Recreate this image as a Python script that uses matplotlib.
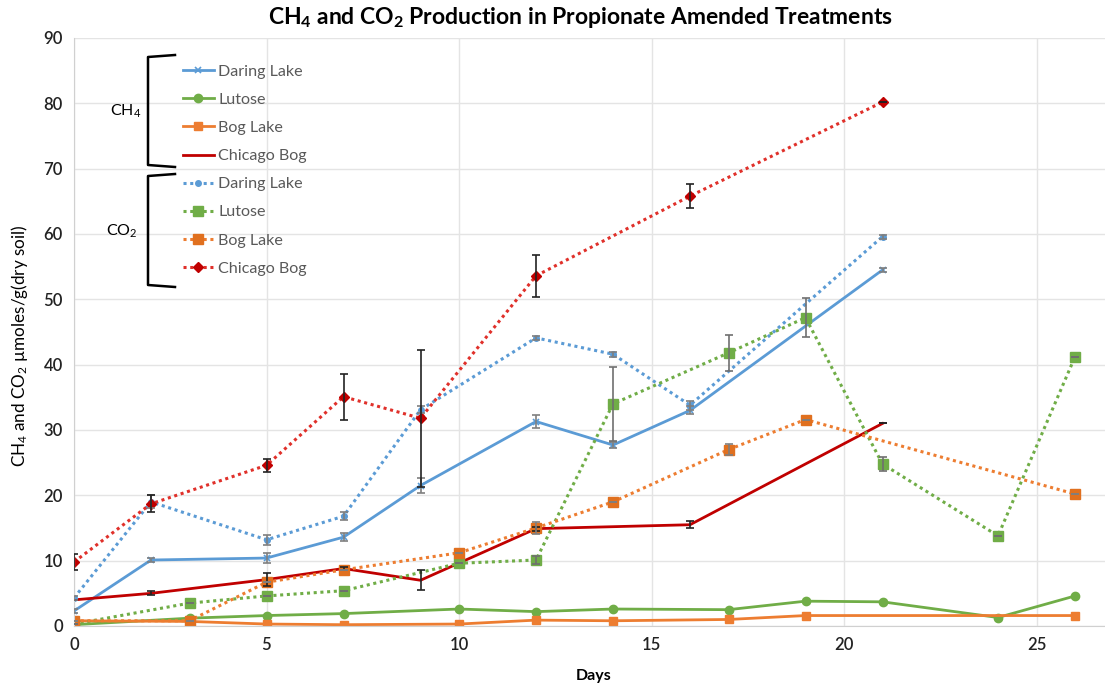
import numpy as np
import matplotlib
matplotlib.use("Agg")
import matplotlib.pyplot as plt
from matplotlib.lines import Line2D

plt.rcParams['font.family'] = ['Lato', 'DejaVu Sans']
plt.rcParams['mathtext.fontset'] = 'custom'
plt.rcParams['mathtext.rm'] = 'Lato'
plt.rcParams['mathtext.it'] = 'Lato:italic'
plt.rcParams['mathtext.bf'] = 'Lato:bold'

# CH4 series (days, umoles/g dry soil, std error)
ch4_daring_days = [0, 2, 5, 7, 9, 12, 14, 16, 21]
ch4_daring = [2.3, 10.1, 10.4, 13.6, 21.5, 31.3, 27.7, 33.0, 54.5]
ch4_daring_err = [0.3, 0.3, 0.8, 0.6, 1.2, 1.0, 0.5, 0.6, 0.3]

ch4_lutose_days = [0, 3, 5, 7, 10, 12, 14, 17, 19, 21, 24, 26]
ch4_lutose = [0.2, 1.2, 1.6, 1.9, 2.6, 2.2, 2.6, 2.5, 3.8, 3.7, 1.3, 4.6]

ch4_bog_days = [0, 3, 5, 7, 10, 12, 14, 17, 19, 26]
ch4_bog = [0.8, 0.7, 0.3, 0.2, 0.3, 0.9, 0.8, 1.0, 1.6, 1.6]

ch4_chicago_days = [0, 2, 5, 7, 9, 12, 16, 21]
ch4_chicago = [4.0, 5.0, 7.1, 8.8, 7.0, 14.9, 15.5, 31.0]
ch4_chicago_err = [0.0, 0.3, 1.0, 0.2, 1.5, 0.3, 0.5, 0.0]

# CO2 series
co2_daring_days = [0, 2, 5, 7, 9, 12, 14, 16, 21]
co2_daring = [4.3, 19.0, 13.2, 16.8, 33.1, 44.1, 41.6, 33.8, 59.6]
co2_daring_err = [0.3, 1.0, 0.8, 0.6, 0.5, 0.3, 0.4, 0.7, 0.3]

co2_lutose_days = [0, 3, 5, 7, 10, 12, 14, 17, 19, 21, 24, 26]
co2_lutose = [0.3, 3.5, 4.6, 5.4, 9.6, 10.1, 34.0, 41.8, 47.2, 24.8, 13.8, 41.2]
co2_lutose_err = [0, 0, 0, 0, 0, 0.6, 5.7, 2.8, 3.0, 1.0, 0, 0]

co2_bog_days = [0, 3, 5, 7, 10, 12, 14, 17, 19, 26]
co2_bog = [0.8, 0.8, 6.7, 8.6, 11.2, 15.0, 19.0, 27.0, 31.6, 20.2]
co2_bog_err = [0, 0, 0, 0, 0, 0.9, 0, 0.8, 0, 0]

co2_chicago_days = [0, 2, 5, 7, 9, 12, 16, 21]
co2_chicago = [9.8, 18.7, 24.6, 35.1, 31.8, 53.6, 65.8, 80.2]
co2_chicago_err = [1.2, 1.3, 1.0, 3.5, 10.5, 3.2, 1.8, 0]

blue = '#5B9BD5'
green = '#70AD47'
orange = '#ED7D31'
dark_orange = '#E0701F'
red = '#C00000'
dot_red = '#E0302A'
dots = (0, (1, 1.2))

fig = plt.figure(figsize=(11.05, 6.87), dpi=100)
ax = fig.add_axes([74 / 1105, 61 / 687, 1 - 74 / 1105, 588 / 687])

lines = []
lines += ax.plot(ch4_daring_days, ch4_daring, color=blue, lw=2, marker='x', ms=4.5, mew=1.2, label='Daring Lake')
lines += ax.plot(ch4_lutose_days, ch4_lutose, color=green, lw=2, marker='o', ms=6, label='Lutose')
lines += ax.plot(ch4_bog_days, ch4_bog, color=orange, lw=2, marker='s', ms=6, label='Bog Lake')
lines += ax.plot(ch4_chicago_days, ch4_chicago, color=red, lw=2, label='Chicago Bog')
lines += ax.plot(co2_daring_days, co2_daring, color=blue, lw=2.2, ls=dots, marker='o', ms=4, label='Daring Lake')
lines += ax.plot(co2_lutose_days, co2_lutose, color=green, lw=2.2, ls=dots, marker='s', ms=7, label='Lutose')
lines += ax.plot(co2_bog_days, co2_bog, color=orange, lw=2.2, ls=dots, marker='s', ms=6.5,
                 mfc=dark_orange, mec=dark_orange, label='Bog Lake')
lines += ax.plot(co2_chicago_days, co2_chicago, color=dot_red, lw=2.2, ls=dots, marker='D', ms=5,
                 mfc=red, mec=red, label='Chicago Bog')

# error bars
ebar = dict(fmt='none', capsize=3, elinewidth=1.2, capthick=1.2, zorder=4)
ax.errorbar(ch4_daring_days, ch4_daring, yerr=ch4_daring_err, ecolor='#7f7f7f', **ebar)
ax.errorbar(ch4_chicago_days, ch4_chicago, yerr=ch4_chicago_err, ecolor='#222222', **ebar)
ax.errorbar(co2_daring_days, co2_daring, yerr=co2_daring_err, ecolor='#7f7f7f', **ebar)
ax.errorbar(co2_lutose_days, co2_lutose, yerr=co2_lutose_err, ecolor='#6f6f6f', **ebar)
ax.errorbar(co2_bog_days, co2_bog, yerr=co2_bog_err, ecolor='#7f7f7f', **ebar)
ax.errorbar(co2_chicago_days, co2_chicago, yerr=co2_chicago_err, ecolor='#222222', **ebar)

ax.set_xlim(0, 1031 / 38.5)
ax.set_ylim(0, 90)
ax.set_xticks(np.arange(0, 26, 5))
ax.set_yticks(np.arange(0, 91, 10))
ax.grid(True, color='#e4e4e4', lw=1)
ax.set_axisbelow(True)
for side in ['top', 'right']:
    ax.spines[side].set_visible(False)
ax.spines['left'].set_color('#d0d0d0')
ax.spines['bottom'].set_color('#d0d0d0')
ax.tick_params(length=0, labelsize=12, colors='#222222', pad=8)
for lbl in ax.get_xticklabels() + ax.get_yticklabels():
    lbl.set_fontweight('semibold')

fig.text(580 / 1105, 1 - 18 / 687, r'CH$_\mathbf{4}$ and CO$_\mathbf{2}$ Production in Propionate Amended Treatments',
         ha='center', va='center', fontsize=16.5, fontweight='bold')
fig.text(594 / 1105, 1 - 676 / 687, 'Days', ha='center', va='center', fontsize=11.5, fontweight='bold')
fig.text(20 / 1105, 1 - 346 / 687, r'CH$_4$ and CO$_2$ µmoles/g(dry soil)', ha='center', va='center',
         rotation=90, fontsize=12.3)

leg = ax.legend(handles=lines, loc='upper left', bbox_to_anchor=(183 / 1105, 1 - 64.5 / 687),
                bbox_transform=fig.transFigure, frameon=False, fontsize=11.6, borderpad=0,
                borderaxespad=0, handlelength=1.9, handletextpad=0.3, labelspacing=0.86)
for t in leg.get_texts():
    t.set_color('#595959')

# brackets grouping the legend entries
def bracket(top, bottom, x_left=148, x_right=175):
    xs = np.array([x_right, x_left, x_left, x_right]) / 1105
    ys = 1 - np.array([top, top + 2, bottom - 2, bottom]) / 687
    fig.add_artist(Line2D(xs, ys, color='black', lw=1.8, transform=fig.transFigure))

bracket(55, 167)
bracket(174, 287)
fig.text(126 / 1105, 1 - 111 / 687, r'CH$_4$', ha='center', va='center', fontsize=11.5)
fig.text(122 / 1105, 1 - 231 / 687, r'CO$_2$', ha='center', va='center', fontsize=11.5)

fig.savefig('out.png', dpi=100)
